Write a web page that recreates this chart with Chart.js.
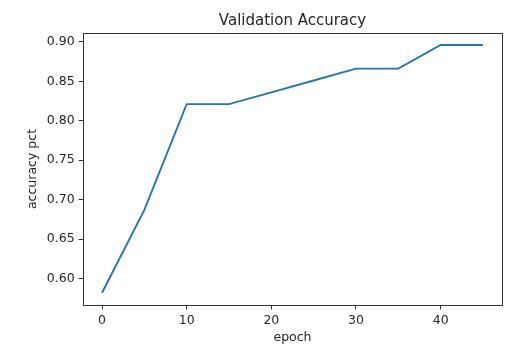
<!DOCTYPE html>
<html>
<head>
<meta charset="utf-8">
<script src="https://cdn.jsdelivr.net/npm/chart.js@4"></script>
<style>
  html, body { margin: 0; padding: 0; background: #fff; }
  #wrap { width: 530px; height: 364px; }
</style>
</head>
<body>
<div id="wrap"><canvas id="accChart" width="530" height="364"></canvas></div>
<script>
// Data
const epochs = [0, 5, 10, 15, 20, 25, 30, 35, 40, 45];
const accuracy = [0.582, 0.687, 0.821, 0.821, 0.836, 0.851, 0.866, 0.866, 0.896, 0.896];
const xTicks = [0, 10, 20, 30, 40];
const yTicks = [0.60, 0.65, 0.70, 0.75, 0.80, 0.85, 0.90];
const chartTitle = "Validation Accuracy";

const textColor = "#262626";
const spineColor = "#333333";
const fontFamily = "'DejaVu Sans', sans-serif";

// draws the full box round the plot like matplotlib spines,
// and the title centred over the plot area (not the canvas)
const frameBox = {
  id: "frameBox",
  afterDraw(chart) {
    const { ctx, chartArea } = chart;
    ctx.save();
    ctx.strokeStyle = spineColor;
    ctx.lineWidth = 1;
    ctx.strokeRect(
      Math.round(chartArea.left) + 0.5,
      Math.round(chartArea.top) + 0.5,
      Math.round(chartArea.right - chartArea.left),
      Math.round(chartArea.bottom - chartArea.top)
    );
    ctx.fillStyle = textColor;
    ctx.font = "15px " + fontFamily;
    ctx.textAlign = "center";
    ctx.textBaseline = "middle";
    ctx.fillText(chartTitle, (chartArea.left + chartArea.right) / 2, 21);
    ctx.restore();
  },
};

document.addEventListener("DOMContentLoaded", () => {
  const ctx = document.getElementById("accChart").getContext("2d");
  new Chart(ctx, {
    type: "line",
    data: {
      datasets: [
        {
          data: epochs.map((e, i) => ({ x: e, y: accuracy[i] })),
          borderColor: "#1f77b4",
          borderWidth: 1.9,
          pointRadius: 0,
          tension: 0,
          fill: false,
        },
      ],
    },
    options: {
      responsive: false,
      animation: false,
      layout: { padding: { left: 0, right: 28, top: 33, bottom: 0 } },
      plugins: {
        legend: { display: false },
        tooltip: { enabled: false },
        title: { display: false },
      },
      scales: {
        x: {
          type: "linear",
          min: -2.25,
          max: 47.25,
          afterBuildTicks: (scale) => {
            scale.ticks = xTicks.map((v) => ({ value: v }));
          },
          afterFit: (scale) => {
            scale.height = 59;
          },
          grid: {
            drawOnChartArea: false,
            drawTicks: true,
            tickLength: 4.4,
            tickColor: spineColor,
          },
          border: { display: true, color: spineColor },
          ticks: {
            color: textColor,
            font: { family: fontFamily, size: 12.5 },
            padding: 4,
            maxRotation: 0,
          },
          title: {
            display: true,
            text: "epoch",
            color: textColor,
            font: { family: fontFamily, size: 12.5 },
            padding: { top: 0, bottom: 18.8 },
          },
        },
        y: {
          type: "linear",
          min: 0.5664,
          max: 0.9112,
          afterBuildTicks: (scale) => {
            scale.ticks = yTicks.map((v) => ({ value: v }));
          },
          afterFit: (scale) => {
            scale.width = 83;
          },
          grid: {
            drawOnChartArea: false,
            drawTicks: true,
            tickLength: 4.4,
            tickColor: spineColor,
          },
          border: { display: true, color: spineColor },
          ticks: {
            color: textColor,
            font: { family: fontFamily, size: 12.5 },
            padding: 4,
            callback: (v) => v.toFixed(2),
          },
          title: {
            display: true,
            text: "accuracy pct",
            color: textColor,
            font: { family: fontFamily, size: 12.5 },
            padding: { top: 25.5, bottom: 0 },
          },
        },
      },
    },
    plugins: [frameBox],
  });
});
</script>
</body>
</html>
